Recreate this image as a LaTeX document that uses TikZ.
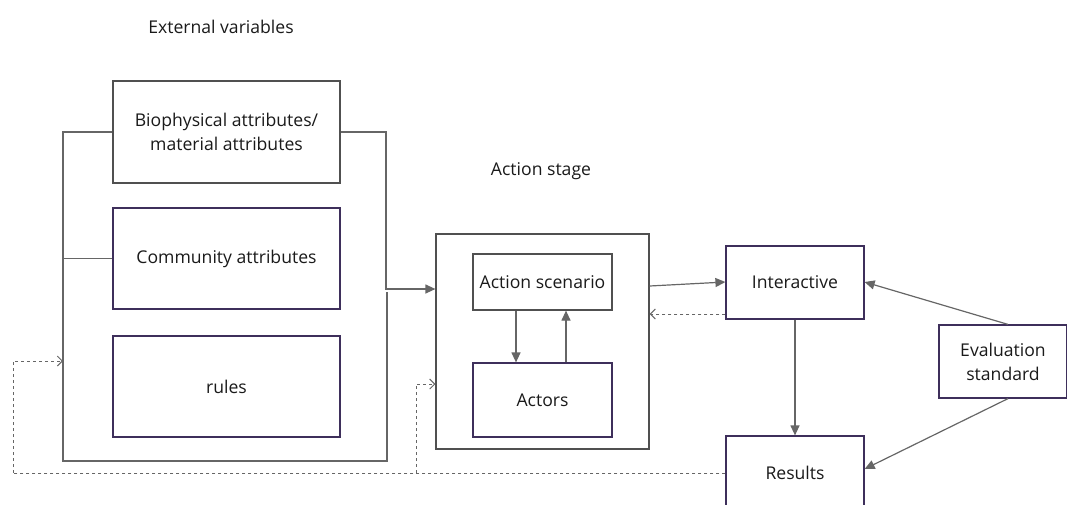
\documentclass[tikz,border=0pt]{standalone}
\usepackage{fontspec}
\setmainfont{Open Sans}
\usetikzlibrary{arrows.meta,calc}
\definecolor{ln}{HTML}{666666}
\definecolor{bxg}{HTML}{505050}
\definecolor{bxp}{HTML}{3E2F5B}
\definecolor{tx}{HTML}{1A1A1A}
\tikzset{
  box/.style={draw=#1, line width=1.2pt, fill=white, text=tx, align=center, inner sep=0pt, font=\fontsize{17.6}{24}\selectfont},
  lbl/.style={text=tx, font=\fontsize{17.6}{24}\selectfont},
  link/.style={draw=ln, line width=1.2pt},
  arr/.style={link, -{Triangle[length=10pt,width=9pt]}},
  darr/.style={draw=ln, line width=1pt, dash pattern=on 3pt off 3pt, -{Straight Barb[length=5pt,width=10pt]}},
  dline/.style={draw=ln, line width=1pt, dash pattern=on 3pt off 3pt}
}
\begin{document}
\begin{tikzpicture}[x=1pt,y=-1pt]
\useasboundingbox (0,0) rectangle (1067,504);
\node[lbl] (t1) at (221,27) {External variables};
\node[lbl] (t2) at (541,171) {Action stage};

\node[box=bxg, minimum width=227pt, minimum height=102pt] (bio) at (226.5,132) {Biophysical attributes/\\material attributes};
\node[box=bxp, minimum width=227pt, minimum height=101pt] (com) at (226.5,258.5) {Community attributes};
\node[box=bxp, minimum width=227pt, minimum height=101pt] (rul) at (226.5,386.5) {rules};

\node[box=bxg, minimum width=213pt, minimum height=215pt] (act) at (542.5,341.5) {};
\node[box=bxg, minimum width=139pt, minimum height=56pt] (sc) at (542.5,282) {Action scenario};
\node[box=bxp, minimum width=139pt, minimum height=74pt] (ac) at (542.5,400) {Actors};

\node[box=bxp, minimum width=138pt, minimum height=73pt] (int) at (795,282.5) {Interactive};
\node[box=bxp, minimum width=138pt, minimum height=74pt] (res) at (795,473) {Results};
\node[box=bxp, minimum width=128pt, minimum height=73pt] (ev) at (1003,361.5) {Evaluation\\standard};

% bracket
\coordinate (jn) at (386,289);
\coordinate (bl) at (63,461);
\coordinate (br) at (387,461);
\coordinate (lin) at (63,361);
\draw[link] (bio.west) -| (bl) -- (br) -- (387,292);
\draw[link] (com.west) -- (com.west -| bl);
\draw[arr] (bio.east) -| (jn) -- (jn -| act.west);

% inside action
\draw[arr] (sc.south -| 516,0) -- (ac.north -| 516,0);
\draw[arr] (ac.north -| 566,0) -- (sc.south -| 566,0);

% action <-> interactive
\draw[arr] (act.east |- 0,286) -- (int.west |- 0,282);
\draw[darr] (int.west |- 0,314) -- (act.east |- 0,314);
\draw[arr] (int.south) -- (res.north);
\draw[arr] ([xshift=5pt]ev.north) -- (int.east |- 0,282);
\draw[arr] ([xshift=5pt]ev.south) -- (res.east |- 0,469);

% feedback dashed
\coordinate (dl) at (13,473);
\coordinate (dm) at (416,473);
\draw[dline] (res.west) -- (dl);
\draw[darr] (dl) |- (lin);
\draw[darr] (dm) |- (act.west |- 0,384);
\end{tikzpicture}
\end{document}
